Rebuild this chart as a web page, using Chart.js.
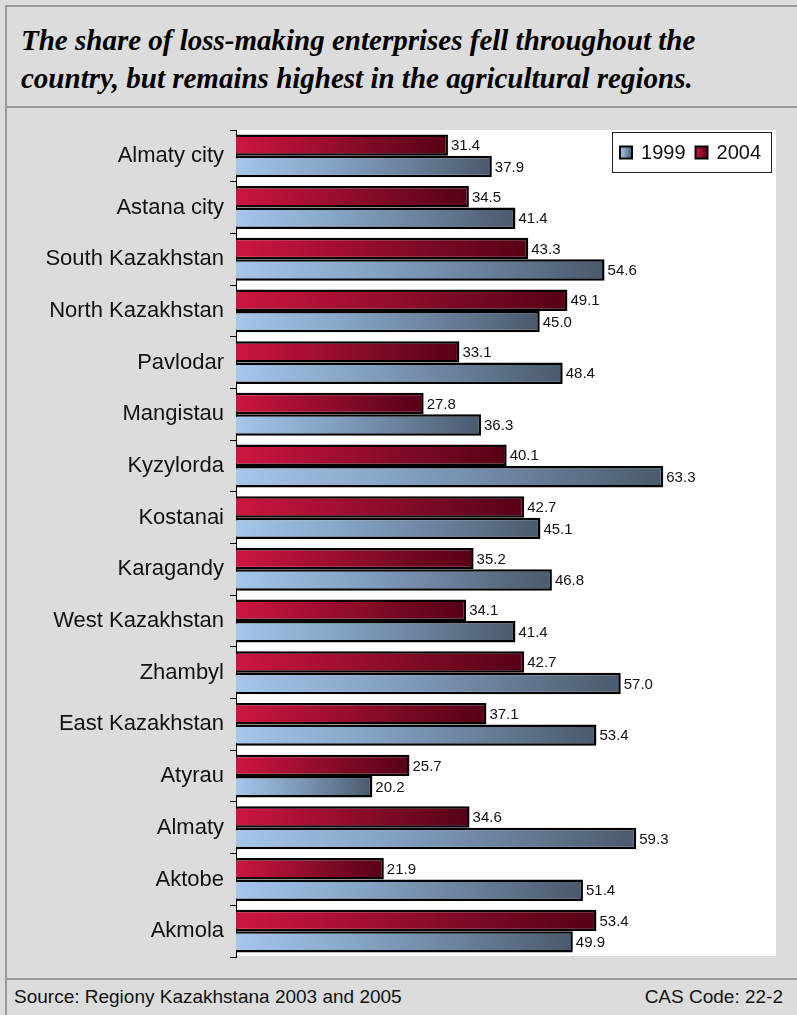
<!DOCTYPE html>
<html>
<head>
<meta charset="utf-8">
<script src="https://cdn.jsdelivr.net/npm/chart.js@4/dist/chart.umd.min.js"></script>
<style>
  html, body { margin: 0; padding: 0; background: #dcdcdc; }
  #page { position: relative; width: 797px; height: 1015px; overflow: hidden; background: #dcdcdc; }
  .hline { position: absolute; left: 5px; right: 0; height: 2px; background: #9a9a9a; }
  .vline { position: absolute; left: 5px; top: 5px; bottom: 0; width: 2px; background: #9a9a9a; }
  #title { position: absolute; left: 21px; top: 21px; margin: 0;
           font: bold italic 29px "Liberation Serif", "Times New Roman", serif;
           line-height: 38px; color: #000; white-space: nowrap; }
  .foot { position: absolute; top: 986px; font: 19px "Liberation Sans", Arial, sans-serif; color: #111; white-space: nowrap; }
  #src { left: 14px; }
  #cas { right: 14px; }
  #chart { position: absolute; left: 0; top: 0; }
</style>
</head>
<body>
<div id="page">
  <div class="hline" style="top:5px"></div>
  <div class="hline" style="top:106px"></div>
  <div class="hline" style="top:978px"></div>
  <div class="vline"></div>
  <div id="title">The share of loss-making enterprises fell throughout the<br>country, but remains highest in the agricultural regions.</div>
  <div class="foot" id="src">Source: Regiony Kazakhstana 2003 and 2005</div>
  <div class="foot" id="cas">CAS Code: 22-2</div>
  <canvas id="chart" width="797" height="1015"></canvas>
</div>
<script>
// Share of loss-making enterprises by region, %
const regions = [
  "Almaty city", "Astana city", "South Kazakhstan", "North Kazakhstan",
  "Pavlodar", "Mangistau", "Kyzylorda", "Kostanai", "Karagandy",
  "West Kazakhstan", "Zhambyl", "East Kazakhstan", "Atyrau", "Almaty",
  "Aktobe", "Akmola"
];
const share2004 = [31.4, 34.5, 43.3, 49.1, 33.1, 27.8, 40.1, 42.7, 35.2, 34.1, 42.7, 37.1, 25.7, 34.6, 21.9, 53.4];
const share1999 = [37.9, 41.4, 54.6, 45.0, 48.4, 36.3, 63.3, 45.1, 46.8, 41.4, 57.0, 53.4, 20.2, 59.3, 51.4, 49.9];
const seriesLabels = ["2004", "1999"];

const redStops = ["#cc1640", "#a50f31", "#7a0a24", "#560016"];
const blueStops = ["#a6c6ea", "#88a7c9", "#6a819c", "#4a596c"];
const FONT = '"Liberation Sans", Arial, sans-serif';

function fillStops(g, stops) {
  stops.forEach((c, k) => g.addColorStop(k / (stops.length - 1), c));
  return g;
}

// Horizontal light-to-dark gradient spanning each bar's own length
function barGradient(stops) {
  return (c) => {
    const chart = c.chart;
    if (!chart.chartArea || c.type !== 'data') return stops[0];
    const xs = chart.scales.x;
    const x0 = xs.getPixelForValue(0);
    const x1 = xs.getPixelForValue(c.raw);
    if (Math.abs(x1 - x0) < 1) return stops[0];
    return fillStops(chart.ctx.createLinearGradient(x0, 0, x1, 0), stops);
  };
}

// White plotting area
const plotBackground = {
  id: 'plotBackground',
  beforeDraw(chart) {
    const { ctx, chartArea: a } = chart;
    ctx.save();
    ctx.fillStyle = '#ffffff';
    ctx.fillRect(a.left, a.top, a.right - a.left, a.bottom - a.top - 1);
    ctx.restore();
  }
};

// Value printed just past the end of each bar
const valueLabels = {
  id: 'valueLabels',
  afterDatasetsDraw(chart) {
    const ctx = chart.ctx;
    ctx.save();
    ctx.font = '15px ' + FONT;
    ctx.fillStyle = '#111';
    ctx.textAlign = 'left';
    ctx.textBaseline = 'middle';
    chart.data.datasets.forEach((ds, i) => {
      chart.getDatasetMeta(i).data.forEach((bar, j) => {
        ctx.fillText(ds.data[j].toFixed(1), bar.x + 3, bar.y + 1);
      });
    });
    ctx.restore();
  }
};

// Framed legend in the upper right corner of the plot, 1999 listed first
const boxedLegend = {
  id: 'boxedLegend',
  afterDraw(chart) {
    const ctx = chart.ctx;
    const a = chart.chartArea;
    const items = chart.data.datasets.map((ds) => ({ label: ds.label, stops: ds.stops })).reverse();
    ctx.save();
    ctx.font = '20px ' + FONT;
    const padL = 8, padR = 11, sw = 12, gapText = 9, gapItem = 10, h = 41;
    let w = padL + padR;
    items.forEach((it, k) => {
      it.tw = ctx.measureText(it.label).width;
      w += sw + gapText + it.tw + (k ? gapItem : 0);
    });
    const right = a.right - 4, top = a.top + 2;
    const left = right - w;
    ctx.fillStyle = '#fff';
    ctx.fillRect(left, top, w, h);
    ctx.strokeStyle = '#222';
    ctx.lineWidth = 1;
    ctx.strokeRect(left + 0.5, top + 0.5, w - 1, h - 1);
    const cy = top + h / 2;
    let x = left + padL;
    items.forEach((it) => {
      ctx.fillStyle = fillStops(ctx.createLinearGradient(x, 0, x + sw, 0), it.stops);
      ctx.fillRect(x, cy - sw / 2, sw, sw);
      ctx.strokeStyle = '#000';
      ctx.lineWidth = 2;
      ctx.strokeRect(x, cy - sw / 2, sw, sw);
      x += sw + gapText;
      ctx.fillStyle = '#111';
      ctx.textBaseline = 'middle';
      ctx.fillText(it.label, x, cy + 1);
      x += it.tw + gapItem;
    });
    ctx.restore();
  }
};

new Chart(document.getElementById('chart'), {
  type: 'bar',
  data: {
    labels: regions,
    datasets: [
      { label: seriesLabels[0], data: share2004, stops: redStops,
        backgroundColor: barGradient(redStops), borderColor: '#000', borderWidth: 2.5 },
      { label: seriesLabels[1], data: share1999, stops: blueStops,
        backgroundColor: barGradient(blueStops), borderColor: '#000', borderWidth: 2.5 }
    ]
  },
  options: {
    indexAxis: 'y',
    responsive: false,
    animation: false,
    layout: { padding: { left: 0, right: 21, top: 130, bottom: 58 } },
    datasets: { bar: { categoryPercentage: 0.83, barPercentage: 1.0 } },
    plugins: { legend: { display: false }, tooltip: { enabled: false } },
    scales: {
      x: { display: false, min: 0, max: 80 },
      y: {
        afterFit(scale) { scale.width = 236; },
        grid: { offset: true, drawOnChartArea: false, drawTicks: true, tickLength: 6, color: '#000', lineWidth: 1 },
        border: { display: true, color: '#000', width: 1 },
        ticks: { font: { size: 22, family: FONT }, color: '#111', padding: 6 }
      }
    }
  },
  plugins: [plotBackground, valueLabels, boxedLegend]
});
</script>
</body>
</html>
